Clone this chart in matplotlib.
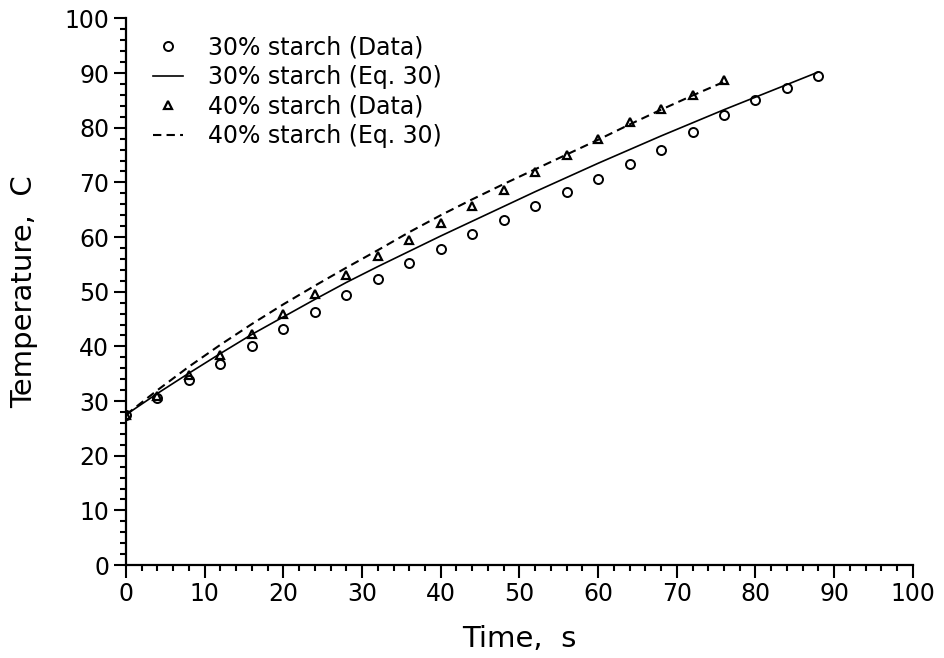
import numpy as np
import matplotlib
matplotlib.use("Agg")
import matplotlib.pyplot as plt
from matplotlib.ticker import MultipleLocator

t_30 = [0, 4, 8, 12, 16, 20, 24, 28, 32, 36, 40, 44, 48, 52, 56, 60, 64, 68, 72, 76, 80, 84, 88]
T_30_data = [27.5, 30.6, 33.8, 36.7, 40.0, 43.1, 46.3, 49.4, 52.3, 55.2, 57.9, 60.5, 63.2,
             65.7, 68.3, 70.7, 73.3, 76.0, 79.2, 82.3, 85.0, 87.3, 89.4]
T_30_eq = [27.5, 31.4, 35.1, 38.7, 42.2, 45.4, 48.6, 51.7, 54.6, 57.4, 60.2, 62.9, 65.6,
           68.3, 70.9, 73.5, 76.0, 78.5, 80.9, 83.3, 85.6, 87.9, 90.2]

t_40 = [0, 4, 8, 12, 16, 20, 24, 28, 32, 36, 40, 44, 48, 52, 56, 60, 64, 68, 72, 76]
T_40_data = [27.5, 31.0, 34.7, 38.5, 42.3, 45.9, 49.5, 53.0, 56.5, 59.4, 62.5, 65.6, 68.6,
             71.9, 75.1, 78.0, 81.0, 83.5, 85.9, 88.7]
T_40_eq = [27.5, 32.0, 36.3, 40.3, 44.1, 47.7, 51.1, 54.4, 57.6, 60.9, 64.0, 66.9, 69.7,
           72.4, 75.1, 77.8, 80.6, 83.3, 85.9, 88.4]

fig = plt.figure(figsize=(9.44, 6.58), dpi=100)
ax = fig.add_axes([0.1335, 0.1413, 0.8335, 0.8307])

ax.plot(t_30, T_30_data, linestyle='none', marker='o', markersize=6.5,
        markerfacecolor='none', markeredgecolor='k', markeredgewidth=1.4,
        label='30% starch (Data)')
ax.plot(t_30, T_30_eq, color='k', linewidth=1.2, label='30% starch (Eq. 30)')
ax.plot(t_40, T_40_data, linestyle='none', marker='^', markersize=6,
        markerfacecolor='none', markeredgecolor='k', markeredgewidth=1.6,
        label='40% starch (Data)')
ax.plot(t_40, T_40_eq, color='k', linewidth=1.5, linestyle=(0, (4, 2.5)),
        label='40% starch (Eq. 30)')

ax.set_xlim(0, 100)
ax.set_ylim(0, 100)
ax.xaxis.set_major_locator(MultipleLocator(10))
ax.xaxis.set_minor_locator(MultipleLocator(2))
ax.yaxis.set_major_locator(MultipleLocator(10))
ax.yaxis.set_minor_locator(MultipleLocator(2))

for s in ['top', 'right']:
    ax.spines[s].set_visible(False)
for s in ['left', 'bottom']:
    ax.spines[s].set_linewidth(1.6)

ax.tick_params(which='major', direction='out', length=9, width=1.5, labelsize=17, pad=3)
ax.tick_params(which='minor', direction='out', length=4.5, width=1.5)

ax.set_xlabel('Time,  s', fontsize=21, labelpad=14)
ax.set_ylabel('Temperature,  C', fontsize=21, labelpad=19)

ax.legend(loc='upper left', bbox_to_anchor=(0.007, 1.008), frameon=False, fontsize=17,
          handlelength=1.3, handletextpad=1.05, labelspacing=0.24, markerscale=1.0)

fig.savefig('out.png', dpi=100)
